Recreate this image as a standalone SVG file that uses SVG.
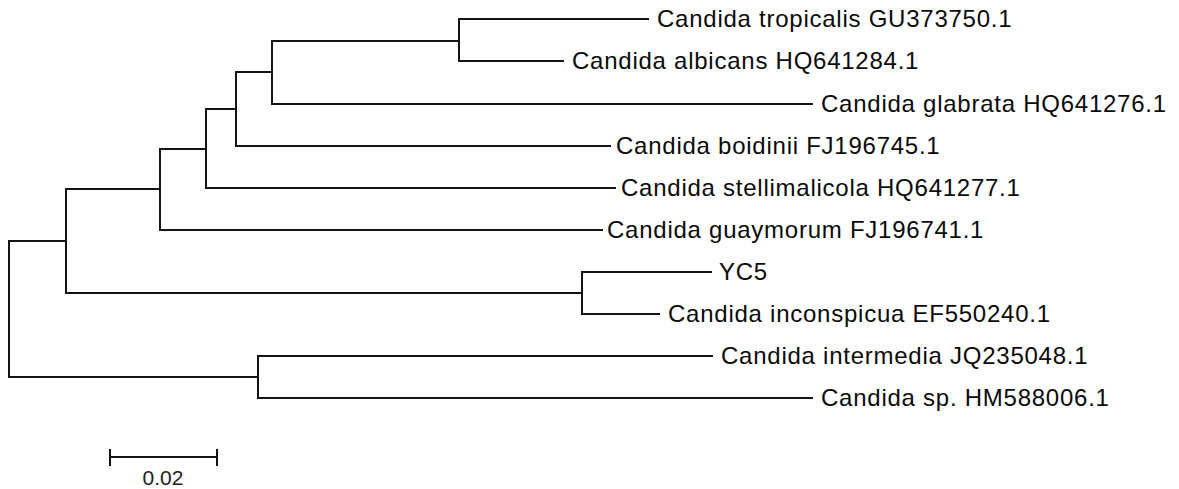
<svg xmlns="http://www.w3.org/2000/svg" width="1179" height="489" viewBox="0 0 1179 489">
<style>
.br{fill:none;stroke:#141414;stroke-width:2;stroke-linecap:square}
.lb{font-family:"Liberation Sans",Arial,sans-serif;font-size:24px;letter-spacing:0.75px;fill:#0a0a0a}
.sc{font-family:"Liberation Sans",Arial,sans-serif;font-size:21px;fill:#222;text-anchor:middle}
</style>
<rect width="1179" height="489" fill="#fff"/>
<g id="connectors">
<path class="br" d="M9,241V377"/>
<path class="br" d="M9,241H66M66,189V293"/>
<path class="br" d="M66,189H160M160,149V230"/>
<path class="br" d="M160,149H206M206,109V188"/>
<path class="br" d="M206,109H236M236,72V146"/>
<path class="br" d="M236,72H272M272,41V104"/>
<path class="br" d="M272,41H459M459,19V61"/>
<path class="br" d="M459,19H648"/>
<path class="br" d="M459,61H563"/>
<path class="br" d="M272,104H812"/>
<path class="br" d="M236,146H610"/>
<path class="br" d="M206,188H615"/>
<path class="br" d="M160,230H602"/>
<path class="br" d="M66,293H582M582,272V314"/>
<path class="br" d="M582,272H711"/>
<path class="br" d="M582,314H659"/>
<path class="br" d="M9,377H258M258,356V398"/>
<path class="br" d="M258,356H712"/>
<path class="br" d="M258,398H812"/>
</g>
<g id="leaf-tropicalis"><text class="lb" x="657" y="27">Candida tropicalis GU373750.1</text></g>
<g id="leaf-albicans"><text class="lb" x="572" y="69">Candida albicans HQ641284.1</text></g>
<g id="leaf-glabrata"><text class="lb" x="821" y="112">Candida glabrata HQ641276.1</text></g>
<g id="leaf-boidinii"><text class="lb" x="616" y="154">Candida boidinii FJ196745.1</text></g>
<g id="leaf-stellimalicola"><text class="lb" x="621" y="196">Candida stellimalicola HQ641277.1</text></g>
<g id="leaf-guaymorum"><text class="lb" x="607" y="238">Candida guaymorum FJ196741.1</text></g>
<g id="leaf-yc5"><text class="lb" x="719" y="280">YC5</text></g>
<g id="leaf-inconspicua"><text class="lb" x="668" y="322">Candida inconspicua EF550240.1</text></g>
<g id="leaf-intermedia"><text class="lb" x="721" y="364">Candida intermedia JQ235048.1</text></g>
<g id="leaf-sp"><text class="lb" x="821" y="406">Candida sp. HM588006.1</text></g>
<g id="scale-bar">
<path class="br" d="M110,457H217M110,450V465M217,450V465"/>
<text class="sc" x="163" y="485">0.02</text>
</g>
</svg>
